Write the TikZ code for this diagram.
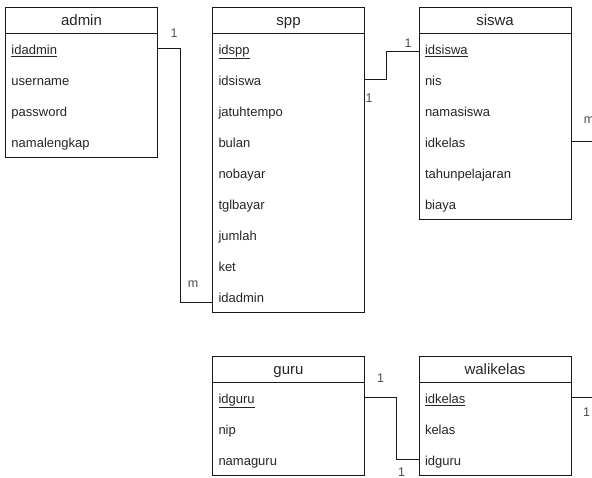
\documentclass[tikz,border=0pt]{standalone}
\usepackage{fontspec}
\setmainfont{Liberation Sans}
\begin{document}
\begin{tikzpicture}[x=1pt,y=-1pt,
  line width=1pt,
  tblhead/.style={draw=black!90, anchor=north west, minimum width=152pt, minimum height=26pt,
    inner sep=0pt, outer sep=0pt, text height=13pt, text depth=1.5pt,
    font=\fontsize{15}{17}\selectfont, text=black!85},
  tblrow/.style={anchor=north west, text width=140pt, inner xsep=6pt, inner ysep=0pt,
    outer sep=0pt, minimum height=31pt, text height=12.5pt, text depth=1pt, align=left,
    font=\fontsize{13}{15}\selectfont, text=black!85},
  tblframe/.style={draw=black!90},
  link/.style={draw=black!90},
  card/.style={font=\fontsize{12.5}{15}\selectfont, text=black!70, inner sep=0pt}
]
\useasboundingbox (0,0) rectangle (592,477);
\fill[white] (0,0) rectangle (592,477);
\clip (0,0) rectangle (592,477);

% admin
\node[tblhead] (admin) at (5.5,7) {admin};
\node[tblrow] (admin-1) at (admin.south west) {\underline{idadmin}};
\node[tblrow] (admin-2) at (admin-1.south west) {username};
\node[tblrow] (admin-3) at (admin-2.south west) {password};
\node[tblrow] (admin-4) at (admin-3.south west) {namalengkap};
\draw[tblframe] (admin.north west) rectangle (admin-4.south east);

% spp
\node[tblhead] (spp) at (212.5,7) {spp};
\node[tblrow] (spp-1) at (spp.south west) {\underline{idspp}};
\node[tblrow] (spp-2) at (spp-1.south west) {idsiswa};
\node[tblrow] (spp-3) at (spp-2.south west) {jatuhtempo};
\node[tblrow] (spp-4) at (spp-3.south west) {bulan};
\node[tblrow] (spp-5) at (spp-4.south west) {nobayar};
\node[tblrow] (spp-6) at (spp-5.south west) {tglbayar};
\node[tblrow] (spp-7) at (spp-6.south west) {jumlah};
\node[tblrow] (spp-8) at (spp-7.south west) {ket};
\node[tblrow] (spp-9) at (spp-8.south west) {idadmin};
\draw[tblframe] (spp.north west) rectangle (spp-9.south east);

% siswa
\node[tblhead] (siswa) at (419,7) {siswa};
\node[tblrow] (siswa-1) at (siswa.south west) {\underline{idsiswa}};
\node[tblrow] (siswa-2) at (siswa-1.south west) {nis};
\node[tblrow] (siswa-3) at (siswa-2.south west) {namasiswa};
\node[tblrow] (siswa-4) at (siswa-3.south west) {idkelas};
\node[tblrow] (siswa-5) at (siswa-4.south west) {tahunpelajaran};
\node[tblrow] (siswa-6) at (siswa-5.south west) {biaya};
\draw[tblframe] (siswa.north west) rectangle (siswa-6.south east);

% guru
\node[tblhead] (guru) at (212.5,356) {guru};
\node[tblrow] (guru-1) at (guru.south west) {\underline{idguru}};
\node[tblrow] (guru-2) at (guru-1.south west) {nip};
\node[tblrow] (guru-3) at (guru-2.south west) {namaguru};
\draw[tblframe] (guru.north west) rectangle (guru-3.south east);

% walikelas
\node[tblhead] (wk) at (419,356) {walikelas};
\node[tblrow] (wk-1) at (wk.south west) {\underline{idkelas}};
\node[tblrow] (wk-2) at (wk-1.south west) {kelas};
\node[tblrow] (wk-3) at (wk-2.south west) {idguru};
\draw[tblframe] (wk.north west) rectangle (wk-3.south east);

% relations
\draw[link] (admin-1.east) -- ++(22.5,0) |- ([yshift=-5.5pt]spp-9.west);
\draw[link] (spp-2.east) -- ++(21.5,0) |- ([yshift=-3pt]siswa-1.west);
\draw[link] (siswa-4.east) -- ++(30,0) |- (wk-1.east);
\draw[link] (guru-1.east) -- ++(32,0) |- (wk-3.west);

% cardinalities
\node[card] (c-admin) at (174,33) {1};
\node[card] (c-sppadm) at (193,284) {m};
\node[card] (c-sppsis) at (369,98.5) {1};
\node[card] (c-siswa) at (408,43.5) {1};
\node[card] (c-siswam) at (589,120) {m};
\node[card] (c-wkright) at (586.5,412) {1};
\node[card] (c-guru) at (380.5,378) {1};
\node[card] (c-wkguru) at (401.5,472) {1};
\end{tikzpicture}
\end{document}
